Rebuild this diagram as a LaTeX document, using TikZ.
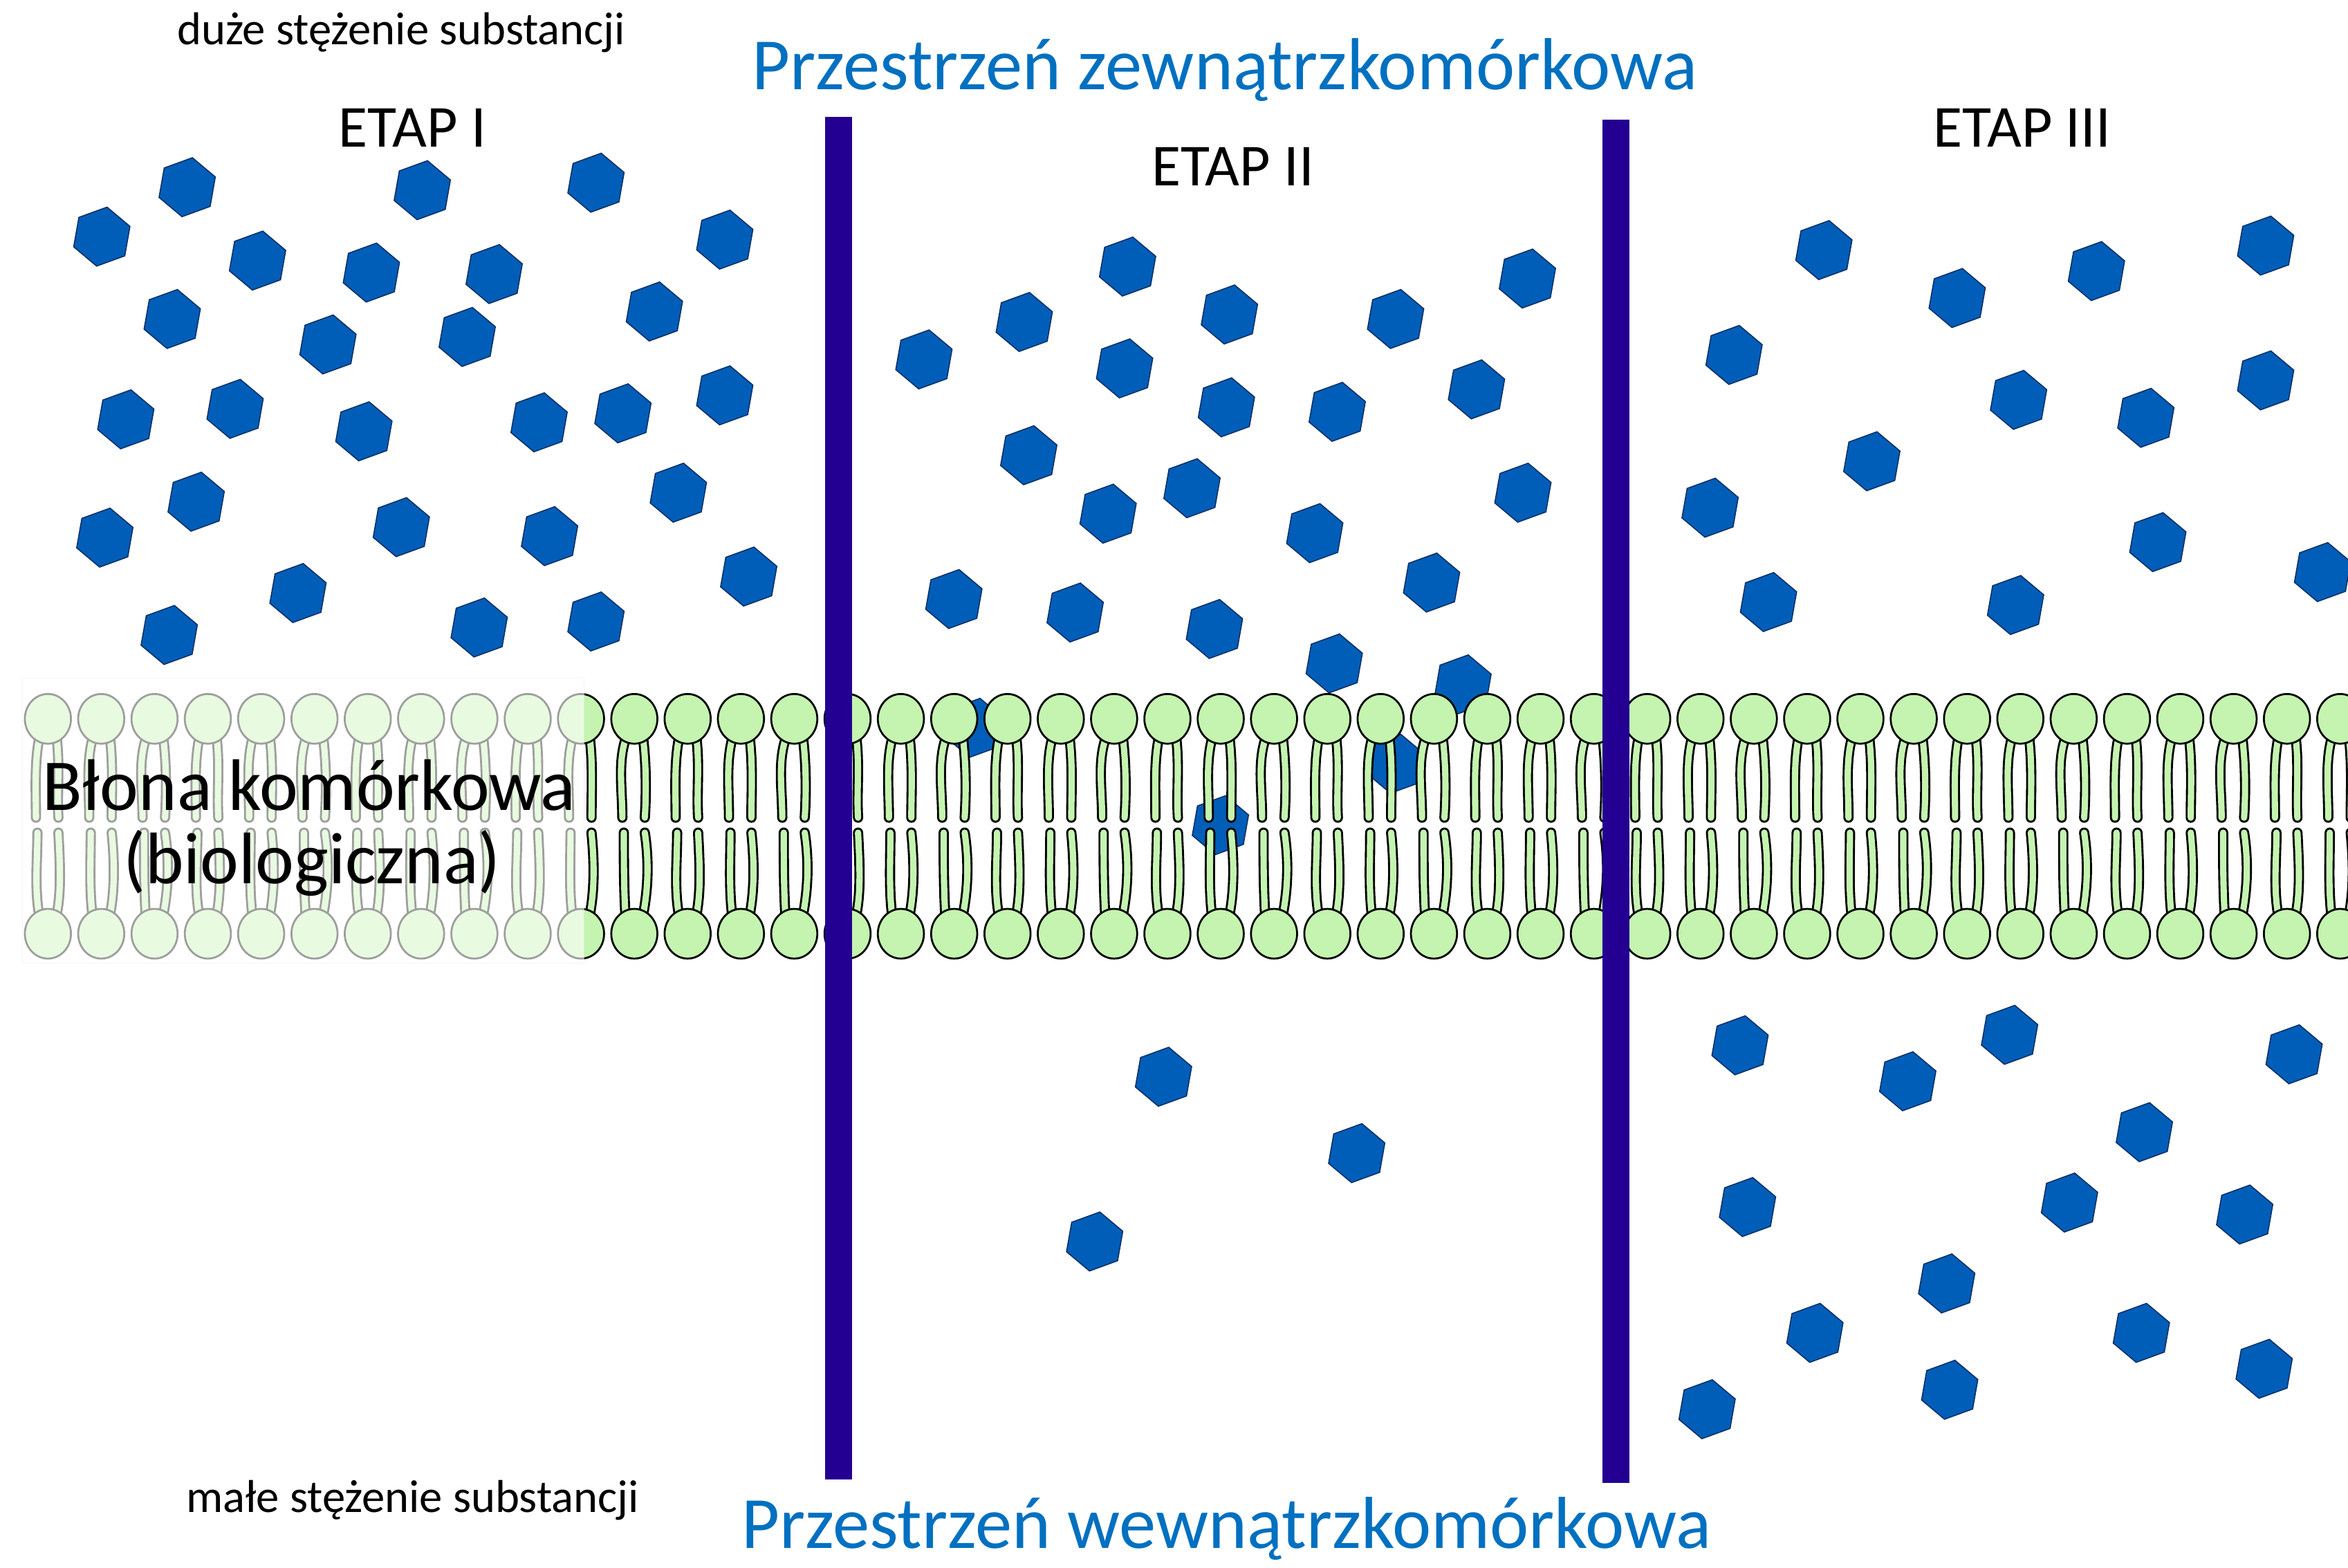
\documentclass[tikz,border=0pt]{standalone}
\usepackage{fontspec}
\setmainfont{Carlito}
\usetikzlibrary{shapes.geometric}

\definecolor{molblue}{RGB}{0,94,184}
\definecolor{moledge}{RGB}{10,45,100}
\definecolor{barblue}{RGB}{35,0,145}
\definecolor{spaceblue}{RGB}{0,112,192}
\definecolor{lipid}{RGB}{196,244,176}

\begin{document}
\begin{tikzpicture}[x=0.25mm, y=-0.25mm,
  molecule/.style={regular polygon, regular polygon sides=6, minimum size=10mm,
    inner sep=0pt, rotate=20, fill=molblue, draw=moledge, line width=0.5pt},
  headgroup/.style={ellipse, minimum width=7.7mm, minimum height=8.3mm,
    inner sep=0pt, fill=lipid, draw=black, line width=0.9pt},
  tail/.style={draw=black, line width=0.33mm, double=lipid,
    double distance=1.05mm, line cap=round},
  wall/.style={fill=barblue},
  label/.style={inner sep=0pt, anchor=base west},
  small/.style={label, font=\fontsize{21.9}{24}\selectfont},
  stage/.style={label, font=\fontsize{28.3}{30}\selectfont},
  space/.style={label, text=spaceblue, font=\fontsize{35}{38}\selectfont},
  big/.style={label, font=\fontsize{34.7}{38}\selectfont}]

\useasboundingbox (0,0) rectangle (1568,1047);
\clip (0,0) rectangle (1568,1047);

% dissolved substance
\foreach \x/\y [count=\n] in {
  125/125,282/127,398/122,68/158,172/174,248/182,330/183,484/160,
  115/213,219/230,312/225,437/208,84/280,157/273,243/288,360/282,
  416/276,484/264,131/335,453/329,70/359,268/352,367/358,199/396,
  500/385,113/424,320/419,398/415,
  753/178,1020/186,684/215,821/210,932/213,617/240,751/246,986/260,
  819/272,893/275,687/304,796/326,1017/329,740/343,878/356,637/400,
  718/409,956/389,811/420,891/443,977/457,651/486,932/510,815/551,
  777/719,906/770,731/829,
  1218/167,1307/199,1400/181,1513/164,1158/237,1348/267,1433/279,
  1513/254,1250/308,1142/339,1441/362,1181/402,1346/404,1551/382,
  1162/698,1342/691,1274/722,1532/704,1432/756,1167/806,1382/803,
  1499/811,1300/857,1212/890,1430/890,1302/928,1512/914,1140/941}
  \node[molecule] (mol\n) at (\x,\y) {};

% phospholipid tails
\foreach \i in {0,...,43}{
  \pgfmathsetmacro\hx{32+35.6*\i}
  \pgfmathsetmacro\w{mod(\i,3)-1}
  \draw[tail] (\hx-6,494) .. controls (\hx-10-\w,510) and (\hx-8,528) .. (\hx-8,546);
  \draw[tail] (\hx+6,494) .. controls (\hx+8,512) and (\hx+7+\w,530) .. (\hx+7,546);
  \draw[tail] (\hx-7,556) .. controls (\hx-7,574) and (\hx-8+\w,592) .. (\hx-6,610);
  \draw[tail] (\hx+7,556) .. controls (\hx+9+\w,576) and (\hx+9,594) .. (\hx+6,610);
}

% phospholipid heads
\foreach \i in {0,...,43}{
  \pgfmathsetmacro\hx{32+35.6*\i}
  \node[headgroup] (top\i) at (\hx,480) {};
  \node[headgroup] (bot\i) at (\hx,623.5) {};
}

% faded part of the bilayer behind the label
\fill[white, opacity=0.62, draw=black!7] (15,453) rectangle (390,643);

% dividing walls between the stages
\fill[wall] (551,78) rectangle (569,988);
\fill[wall] (1070,80) rectangle (1088,990);

% texts
\node[small] (high) at (118,30) {duże stężenie substancji};
\node[small] (low) at (124,1010) {małe stężenie substancji};
\node[space] (outside) at (502,60) {Przestrzeń zewnątrzkomórkowa};
\node[space] (inside) at (495,1034) {Przestrzeń wewnątrzkomórkowa};
\node[stage] (st1) at (226,98) {ETAP I};
\node[stage] (st2) at (769,124) {ETAP II};
\node[stage] (st3) at (1291,98) {ETAP III};
\node[big] (membrane) at (28,541) {Błona komórkowa};
\node[big] (bio) at (82,590) {(biologiczna)};

\end{tikzpicture}
\end{document}
